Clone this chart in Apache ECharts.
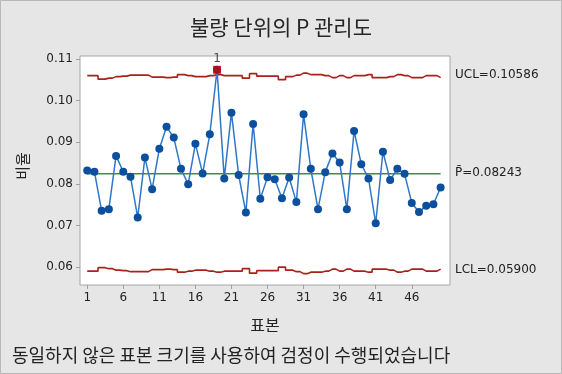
<!DOCTYPE html>
<html><head><meta charset="utf-8">
<script src="https://cdn.jsdelivr.net/npm/echarts@6/dist/echarts.min.js"></script>
<style>html,body{margin:0;padding:0;background:#e6e6e6;}#c{width:562px;height:374px;}</style>
</head><body><div id="c"></div>
<script>
const samples = [1,2,3,4,5,6,7,8,9,10,11,12,13,14,15,16,17,18,19,20,21,22,23,24,25,26,27,28,29,30,31,32,33,34,35,36,37,38,39,40,41,42,43,44,45,46,47,48,49,50];
const proportions = [0.0832,0.0829,0.0735,0.0739,0.0867,0.0829,0.0817,0.0719,0.0863,0.0787,
0.0884,0.0937,0.0911,0.0836,0.0799,0.0896,0.0825,0.0919,0.1074,0.0813,
0.0971,0.0821,0.0731,0.0944,0.0764,0.0816,0.0811,0.0765,0.0815,0.0756,
0.0967,0.0836,0.0739,0.0828,0.0873,0.0851,0.0739,0.0927,0.0847,0.0813,
0.0705,0.0877,0.0809,0.0836,0.0824,0.0754,0.0732,0.0747,0.0751,0.0791];
const ucl = [0.10600,0.10600,0.10516,0.10540,0.10576,0.10588,0.10612,0.10612,0.10612,0.10564,
0.10564,0.10552,0.10564,0.10624,0.10600,0.10576,0.10576,0.10600,0.10624,0.10600,
0.10600,0.10600,0.10540,0.10648,0.10588,0.10588,0.10588,0.10504,0.10576,0.10612,
0.10660,0.10624,0.10624,0.10600,0.10552,0.10600,0.10552,0.10600,0.10600,0.10624,
0.10552,0.10552,0.10576,0.10624,0.10600,0.10552,0.10552,0.10600,0.10600,0.10552];
const lcl = [0.05900,0.05900,0.05984,0.05960,0.05924,0.05912,0.05888,0.05888,0.05888,0.05936,
0.05936,0.05948,0.05936,0.05876,0.05900,0.05924,0.05924,0.05900,0.05876,0.05900,
0.05900,0.05900,0.05960,0.05852,0.05912,0.05912,0.05912,0.05996,0.05924,0.05888,
0.05840,0.05876,0.05876,0.05900,0.05948,0.05900,0.05948,0.05900,0.05900,0.05876,
0.05948,0.05948,0.05924,0.05876,0.05900,0.05948,0.05948,0.05900,0.05900,0.05948];
const pBar = 0.08243;
const uclLabel = 0.10586;
const lclLabel = 0.05900;
const outOfControl = [19];
const xTicks = [1,6,11,16,21,26,31,36,41,46];
const yTicks = [0.06,0.07,0.08,0.09,0.10,0.11];

const numFont = 'DejaVu Sans';
const krFont = '"Noto Sans CJK KR", "Noto Sans", sans-serif';
const chart = echarts.init(document.getElementById('c'), null, {renderer:'canvas'});
const pairs = arr => samples.map((s,i)=>[s,arr[i]]);
chart.setOption({
  backgroundColor:'#e6e6e6',
  animation:false,
  title:{text:'불량 단위의 P 관리도', left:'center', top:17, padding:0,
    textStyle:{fontFamily:krFont, fontSize:21, fontWeight:'normal', color:'#262626'}},
  grid:{left:80, top:56, right:112, bottom:89, show:true, backgroundColor:'#ffffff', borderColor:'#a6a6a6', borderWidth:1},
  xAxis:{type:'value', min:0, max:51.3,
    axisLine:{show:false}, splitLine:{show:false},
    axisTick:{show:true, customValues:xTicks, length:4, lineStyle:{color:'#a0a0a0'}},
    axisLabel:{show:true, customValues:xTicks, fontFamily:numFont, fontSize:12, color:'#222', margin:7}},
  yAxis:{type:'value', min:0.05567, max:0.11072,
    axisLine:{show:false}, splitLine:{show:false},
    axisTick:{show:true, customValues:yTicks, length:4, lineStyle:{color:'#a0a0a0'}},
    axisLabel:{show:true, customValues:yTicks, fontFamily:numFont, fontSize:12, color:'#222', margin:7,
      formatter:v=>v.toFixed(2)}},
  series:[
    {type:'line', data:pairs(ucl), step:'middle', symbol:'none', lineStyle:{color:'#a8221c', width:1.6}, z:2},
    {type:'line', data:pairs(lcl), step:'middle', symbol:'none', lineStyle:{color:'#a8221c', width:1.6}, z:2},
    {type:'line', data:[[samples[0],pBar],[samples[samples.length-1],pBar]], symbol:'none', lineStyle:{color:'#2e9a2e', width:1.6}, z:2},
    {type:'line', data:pairs(proportions), symbol:'circle', symbolSize:8,
      lineStyle:{color:'#2f77c9', width:1.5}, itemStyle:{color:'#0b4f9e', borderWidth:0}, z:3},
    {type:'scatter', data:outOfControl.map(s=>[s,proportions[s-1]]), symbol:'rect', symbolSize:8,
      itemStyle:{color:'#d40000'}, z:4,
      label:{show:true, position:'top', distance:1, formatter:'1', fontFamily:numFont, fontSize:12, color:'#222'}}
  ]
});
const xr = 455;
const yU = chart.convertToPixel({gridIndex:0},[50,uclLabel])[1];
const yP = chart.convertToPixel({gridIndex:0},[50,pBar])[1];
const yL = chart.convertToPixel({gridIndex:0},[50,lclLabel])[1];
const t = (text,x,y,font,size)=>({type:'text', x:x, y:y, style:{text:text, fontFamily:font, fontSize:size, fill:'#222', textVerticalAlign:'middle'}});
chart.setOption({graphic:[
  {type:'rect', shape:{x:0.5,y:0.5,width:561,height:373}, style:{fill:null, stroke:'#b8b8b8', lineWidth:1}, silent:true},
  t('UCL=0.10586', xr, yU-1, numFont, 12),
  t('P\u0304=0.08243', xr, yP-1, numFont, 12),
  t('LCL=0.05900', xr, yL-1, numFont, 12),
  {type:'text', x:22, y:166, rotation:Math.PI/2, style:{text:'비율', fontFamily:krFont, fontSize:15, fill:'#222', textAlign:'center', textVerticalAlign:'middle'}},
  {type:'text', x:265, y:325, style:{text:'표본', fontFamily:krFont, fontSize:16, fill:'#222', textAlign:'center', textVerticalAlign:'middle'}},
  {type:'text', x:12, y:355, style:{text:'동일하지 않은 표본 크기를 사용하여 검정이 수행되었습니다', fontFamily:krFont, fontSize:18, fill:'#222', textVerticalAlign:'middle'}}
]});
</script></body></html>
